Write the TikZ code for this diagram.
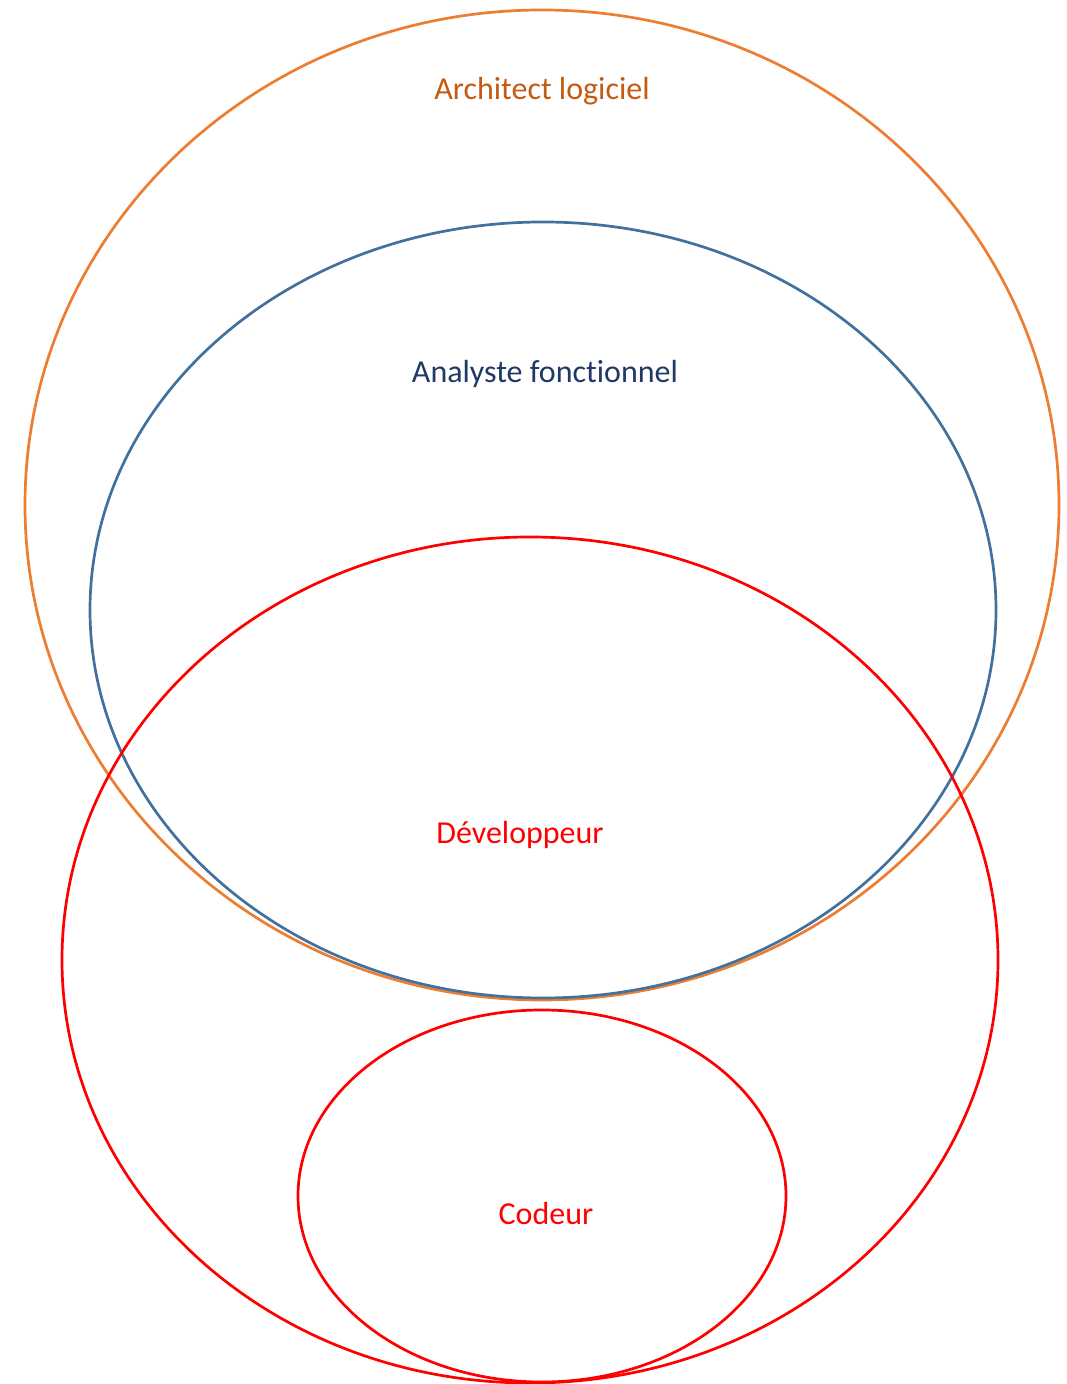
\documentclass[tikz,border=0pt]{standalone}
\usepackage{fontspec}
\setmainfont{Carlito}[Ligatures={NoCommon}]
\definecolor{orgline}{HTML}{ED7D31}
\definecolor{orgtext}{HTML}{C55A11}
\definecolor{blueline}{HTML}{41719C}
\definecolor{bluetext}{HTML}{203864}
\definecolor{redline}{HTML}{FF0000}
\begin{document}
\begin{tikzpicture}[x=1pt,y=1pt,
  ring/.style={line width=2.7pt},
  lbl/.style={font=\fontsize{32}{38}\selectfont, inner sep=0pt}]
\useasboundingbox (0,0) rectangle (1066,1384);
% Architect logiciel
\draw[ring, orgline] (542,879) ellipse [x radius=517, y radius=495];
% Analyste fonctionnel
\draw[ring, blueline] (543,774) ellipse [x radius=453, y radius=388];
% Developpeur
\draw[ring, redline] (530,424) ellipse [x radius=468, y radius=423];
% Codeur
\draw[ring, redline] (542,188) ellipse [x radius=244, y radius=186];
\node[lbl, text=orgtext] (arch) at (542,1293) {Architect logiciel};
\node[lbl, text=bluetext] (ana) at (545,1010) {Analyste fonctionnel};
\node[lbl, text=redline] (dev) at (520,549) {Développeur};
\node[lbl, text=redline] (cod) at (546,170) {Codeur};
\end{tikzpicture}
\end{document}
